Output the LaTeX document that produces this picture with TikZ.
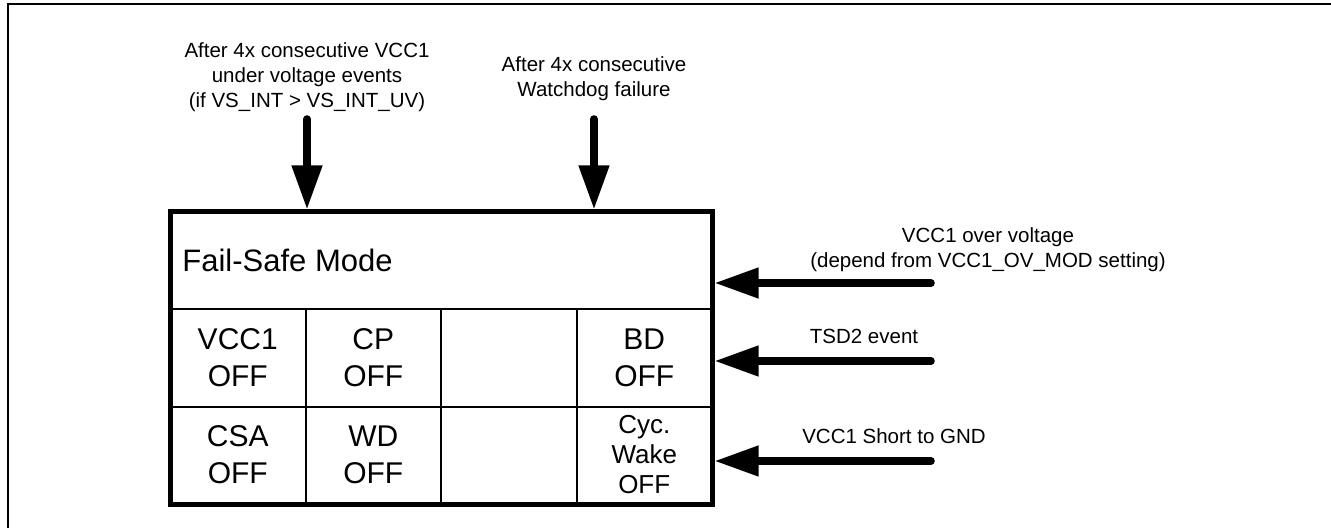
\documentclass[tikz,border=0pt]{standalone}
\usepackage{fontspec}
\setmainfont{Liberation Sans}
\usetikzlibrary{arrows.meta}
\begin{document}
\begin{tikzpicture}[x=0.5pt,y=-0.5pt,
  lbl/.style={font=\fontsize{10.25pt}{12.5pt}\selectfont, align=center, inner sep=0pt},
  cell/.style={font=\fontsize{15pt}{18.5pt}\selectfont, align=center, inner sep=0pt},
  smallcell/.style={font=\fontsize{13pt}{15pt}\selectfont, align=center, inner sep=0pt},
  evarrow/.style={line width=3.75pt, line cap=round, -{Triangle[length=22pt,width=14.5pt]}},
  divider/.style={line width=1pt},
  frameline/.style={line width=1pt},
]
\useasboundingbox (0,0) rectangle (1331,528);
% outer frame (top and left only)
\draw[frameline] (8,528) -- (8,4) -- (1331,4);
% main box
\node[draw, line width=2.5pt, minimum width=271pt, minimum height=146pt, inner sep=0pt] (fsm) at (441,358) {};
\draw[divider] (170,309) -- (712,309);
\draw[divider] (170,407) -- (712,407);
\draw[divider] (305.5,309) -- (305.5,504);
\draw[divider] (441,309) -- (441,504);
\draw[divider] (576.5,309) -- (576.5,504);
% header
\node[font=\fontsize{15.5pt}{18pt}\selectfont, anchor=west, inner sep=0pt] (title) at (182,260) {Fail-Safe Mode};
% cells
\node[cell] (vcc) at (237.75,358) {VCC1\\OFF};
\node[cell] (cp) at (373.25,358) {CP\\OFF};
\node[cell] (bd) at (644.25,358) {BD\\OFF};
\node[cell] (csa) at (237.75,455) {CSA\\OFF};
\node[cell] (wd) at (373.25,455) {WD\\OFF};
\node[smallcell] (cyc) at (644.25,455) {Cyc.\\Wake\\OFF};
% top labels and arrows
\node[lbl] (ltop) at (307,77) {After 4x consecutive VCC1\\under voltage events\\(if VS\_INT > VS\_INT\_UV)};
\node[lbl] (rtop) at (594,79) {After 4x consecutive\\Watchdog failure};
\coordinate (a1) at (307,119);
\coordinate (a2) at (594,119);
\draw[evarrow] (a1) -- (a1 |- fsm.north);
\draw[evarrow] (a2) -- (a2 |- fsm.north);
% right labels and arrows
\node[lbl] (rov) at (988,250) {VCC1 over voltage\\(depend from VCC1\_OV\_MOD setting)};
\node[lbl] (rtsd) at (864,336) {TSD2 event};
\node[lbl] (rgnd) at (894,436) {VCC1 Short to GND};
\coordinate (b1) at (931,283);
\coordinate (b2) at (931,361);
\coordinate (b3) at (931,461);
\draw[evarrow] (b1) -- (b1 -| fsm.east);
\draw[evarrow] (b2) -- (b2 -| fsm.east);
\draw[evarrow] (b3) -- (b3 -| fsm.east);
\end{tikzpicture}
\end{document}
